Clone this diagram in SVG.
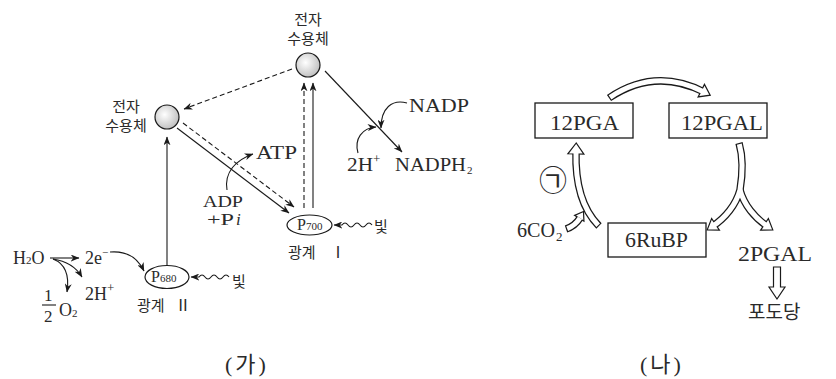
<svg xmlns="http://www.w3.org/2000/svg" width="836" height="379" viewBox="0 0 836 379">
<defs>
<style>
.ln{stroke:#1a1a1a;stroke-width:1.1;fill:none}
.dash{stroke-dasharray:5 3}
.arr{marker-end:url(#ah)}
.ser{font-family:"Liberation Serif","Noto Sans CJK KR",serif;fill:#2a2a2a}
.kor{font-family:"Noto Sans CJK KR",sans-serif;fill:#2a2a2a}
.box{fill:#fff;stroke:#1a1a1a;stroke-width:1.3}
.bk{fill:none;stroke:#1a1a1a;stroke-width:7.5}
.wh{fill:none;stroke:#fff;stroke-width:5;stroke-dasharray:0 1.2 2000}
.wh2{fill:none;stroke:#fff;stroke-width:5}
.hd{fill:#fff;stroke:#1a1a1a;stroke-width:1.2;stroke-linejoin:miter}
.acc{fill:url(#g);stroke:#1a1a1a;stroke-width:1.2}
.ell{fill:#fff;stroke:#1a1a1a;stroke-width:1.2}
</style>
<radialGradient id="g" cx="0.4" cy="0.4" r="0.65">
<stop offset="0" stop-color="#ffffff"/>
<stop offset="1" stop-color="#bdbdbd"/>
</radialGradient>
<marker id="ah" viewBox="0 0 10 8" refX="9.5" refY="4" markerWidth="9" markerHeight="7" markerUnits="userSpaceOnUse" orient="auto">
<path d="M0,0 L10,4 L0,8 L3,4 Z" fill="#1a1a1a"/>
</marker>
</defs>
<rect width="836" height="379" fill="#fff"/>

<g id="connectors-a">
<path class="ln arr" d="M50,258 L79,258"/>
<path class="ln arr" d="M110,252 Q134,250 144,271"/>
<path class="ln arr" d="M53,259 Q71,266 67,292"/>
<path class="ln arr" d="M53,259 Q73,262 82,277"/>
<path class="ln arr" d="M167,266 L167,137"/>
<path class="ln dash arr" d="M292,69 L184,109"/>
<path class="ln arr" d="M177,128 L289,213"/>
<path class="ln dash arr" d="M183,123 L294,207"/>
<path class="ln dash arr" d="M304,208 L304,83"/>
<path class="ln arr" d="M313,208 L313,83"/>
<path class="ln arr" d="M325,71 L402,152"/>
<path class="ln arr" d="M407,103 C392,99 381,108 381,128"/>
<path class="ln arr" d="M358,153 C354,139 362,128 376,127"/>
<path class="ln arr" d="M227,190 C224,172 236,160 253,154"/>
<path class="ln arr" d="M372,225 Q369,221 366,225 T360,225 T354,225 T348,225 T342,225 L334,225"/>
<path class="ln arr" d="M229,277 Q226,273 223,277 T217,277 T211,277 T205,277 T199,277 L191,277"/>
<path class="ln" d="M42,305 H56"/>
</g>

<g id="acceptor-top">
<circle class="acc" cx="308" cy="65" r="12"/>
<text class="kor" x="308" y="25" font-size="15" text-anchor="middle">전자</text>
<text class="kor" x="308" y="44" font-size="15" text-anchor="middle">수용체</text>
</g>
<g id="acceptor-left">
<circle class="acc" cx="167" cy="117" r="12"/>
<text class="kor" x="126" y="112" font-size="15" text-anchor="middle">전자</text>
<text class="kor" x="126" y="131" font-size="15" text-anchor="middle">수용체</text>
</g>
<g id="p700">
<ellipse class="ell" cx="309.5" cy="225" rx="22.5" ry="10"/>
<text class="ser" x="297" y="230" font-size="16">P<tspan font-size="11">700</tspan></text>
<text class="kor" x="288" y="258" font-size="15">광계</text>
<text class="ser" x="330" y="258" font-size="16">Ⅰ</text>
<text class="kor" x="374" y="232" font-size="15">빛</text>
</g>
<g id="p680">
<ellipse class="ell" cx="167" cy="277" rx="22" ry="11.5"/>
<text class="ser" x="151" y="282" font-size="16">P<tspan font-size="11">680</tspan></text>
<text class="kor" x="137" y="311" font-size="15">광계</text>
<text class="ser" x="175" y="311" font-size="16">Ⅱ</text>
<text class="kor" x="232" y="287" font-size="15">빛</text>
</g>
<g id="labels-a">
<text class="ser" x="13" y="264" font-size="18">H<tspan font-size="11">2</tspan>O</text>
<text class="ser" x="85" y="264" font-size="18">2e<tspan font-size="11" dy="-8">−</tspan></text>
<text class="ser" x="85" y="300" font-size="18">2H<tspan font-size="13" dy="-8">+</tspan></text>
<text class="ser" x="44" y="301" font-size="17">1</text>
<text class="ser" x="44" y="322" font-size="17">2</text>
<text class="ser" x="59" y="316" font-size="18">O<tspan font-size="11" dy="1">2</tspan></text>
<text class="ser" x="256" y="159" font-size="19" textLength="41" lengthAdjust="spacingAndGlyphs">ATP</text>
<text class="ser" x="203" y="207" font-size="17" textLength="40" lengthAdjust="spacingAndGlyphs">ADP</text>
<text class="ser" x="207" y="225" font-size="17" textLength="27" lengthAdjust="spacingAndGlyphs">+P</text>
<text class="ser" x="236" y="225" font-size="17" font-style="italic">i</text>
<text class="ser" x="409" y="112" font-size="19" textLength="60" lengthAdjust="spacingAndGlyphs">NADP</text>
<text class="ser" x="347" y="171" font-size="19" textLength="26" lengthAdjust="spacingAndGlyphs">2H</text>
<text class="ser" x="373" y="163" font-size="13">+</text>
<text class="ser" x="395" y="171" font-size="19" textLength="71" lengthAdjust="spacingAndGlyphs">NADPH</text>
<text class="ser" x="467" y="174" font-size="11">2</text>
<text class="ser" x="225" y="372" font-size="22" letter-spacing="3">(가)</text>
</g>

<g id="connectors-b">
<path class="bk" d="M609,98 Q655,67 704,92"/>
<path class="bk" d="M739,143 C744,160 742,178 740,190 C736,205 725,218 713,226"/>
<path class="bk" d="M740,190 C744,205 755,218 767,226"/>
<path class="bk" d="M599,226 C585,212 575,188 576,151"/>
<path class="bk" d="M566,229 Q575,226 580,218"/>
<polygon class="hd" points="0,0 -10,-7 -10,7" transform="translate(710.2,95.2) rotate(27)"/>
<polygon class="hd" points="0,0 -10,-7 -10,7" transform="translate(707.2,229.9) rotate(146.3)"/>
<polygon class="hd" points="0,0 -10,-7 -10,7" transform="translate(772.8,229.9) rotate(33.7)"/>
<polygon class="hd" points="0,0 -11,-8 -11,8" transform="translate(576.2,143) rotate(-88.4)"/>
<polygon class="hd" points="0,0 -8,-5.5 -8,5.5" transform="translate(583.5,211.5) rotate(-58)"/>
<path class="wh" d="M609,98 Q655,67 704,92"/>
<path class="wh" d="M739,143 C744,160 742,178 740,190 C736,205 725,218 713,226"/>
<path class="wh2" d="M740,190 C744,205 755,218 767,226"/>
<path class="wh" d="M566,229 Q575,226 580,218"/>
<path class="wh" d="M599,226 C585,212 575,188 576,151"/>
<path class="hd" d="M773.5,267 H780.5 V287 H785 L777,299 L769,287 H773.5 Z"/>
</g>
<g id="box-12pga">
<rect class="box" x="535" y="103" width="98" height="35"/>
<text class="ser" x="550" y="130" font-size="21" textLength="69" lengthAdjust="spacingAndGlyphs">12PGA</text>
</g>
<g id="box-12pgal">
<rect class="box" x="669" y="103" width="98" height="35"/>
<text class="ser" x="681" y="130" font-size="21" textLength="82" lengthAdjust="spacingAndGlyphs">12PGAL</text>
</g>
<g id="box-6rubp">
<rect class="box" x="608" y="223" width="98" height="34"/>
<text class="ser" x="625" y="247" font-size="21" textLength="63" lengthAdjust="spacingAndGlyphs">6RuBP</text>
</g>
<g id="labels-b">
<text class="kor" x="553" y="191" font-size="28" text-anchor="middle">㉠</text>
<text class="ser" x="517" y="237" font-size="20" textLength="38" lengthAdjust="spacingAndGlyphs">6CO</text>
<text class="ser" x="556" y="241" font-size="13">2</text>
<text class="ser" x="738" y="261" font-size="21" textLength="74" lengthAdjust="spacingAndGlyphs">2PGAL</text>
<text class="kor" x="748" y="319" font-size="19">포도당</text>
<text class="ser" x="640" y="372" font-size="22" letter-spacing="3">(나)</text>
</g>
</svg>
